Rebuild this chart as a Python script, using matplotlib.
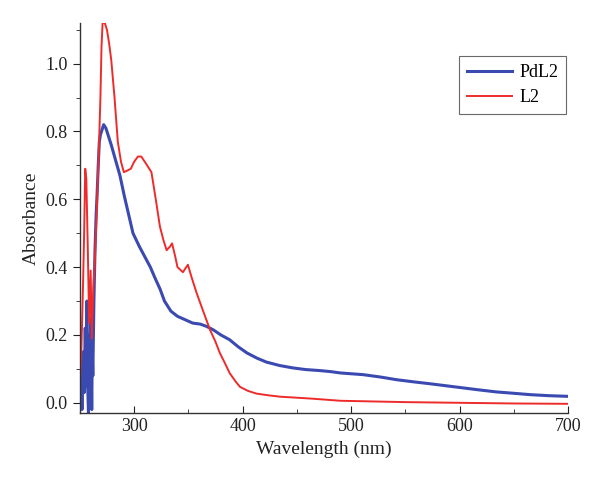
import numpy as np
import matplotlib
matplotlib.use("Agg")
import matplotlib.pyplot as plt
from matplotlib.ticker import MultipleLocator

plt.rcParams['font.family'] = ['Liberation Serif', 'DejaVu Serif']

# PdL2 spectrum
pdl2_wl = [250, 251, 252, 253, 254, 255, 256, 256.5, 257, 258, 258.5, 259, 260, 260.5, 261, 261.5,
           262, 263, 264, 265, 266, 267, 268, 269, 270, 272, 274, 276, 279, 282, 287, 291,
           295, 299, 305, 310, 315, 319, 324, 328, 334, 340, 347, 354, 361, 367, 373, 380,
           388, 396, 404, 413, 422, 434, 446, 458, 471, 481, 490, 511, 527, 542, 557, 573,
           588, 603, 618, 634, 650, 665, 682, 700]
pdl2_abs = [0.00, 0.12, -0.02, 0.15, 0.03, 0.22, 0.05, 0.30, 0.08, -0.03, 0.20, 0.02, 0.25, 0.10, -0.02, 0.15,
            0.08, 0.30, 0.45, 0.55, 0.62, 0.70, 0.77, 0.79, 0.80, 0.82, 0.81, 0.79, 0.76, 0.726, 0.67, 0.61,
            0.555, 0.50, 0.46, 0.43, 0.40, 0.37, 0.335, 0.30, 0.27, 0.255, 0.245, 0.235, 0.232, 0.225, 0.215, 0.20,
            0.186, 0.165, 0.147, 0.132, 0.12, 0.11, 0.103, 0.098, 0.095, 0.092, 0.088, 0.083, 0.076, 0.068, 0.062, 0.056,
            0.050, 0.044, 0.038, 0.032, 0.028, 0.024, 0.021, 0.019]

# L2 spectrum
l2_wl = [250, 251.5, 253, 254, 255, 256, 257.4, 258.6, 260, 261, 262.5, 264, 266, 267.5, 269, 270,
         271, 273, 275, 277, 279, 282, 285, 288, 290.6, 294, 297, 300, 303.5, 306.6, 310, 313,
         316, 320, 323.8, 327, 330, 333, 335, 338, 340, 345, 349.6, 353, 357.6, 362, 366, 370,
         375, 379, 384, 388, 393, 397.6, 405, 413, 424, 434.5, 450, 465, 490, 520, 550, 600,
         650, 700]
l2_abs = [0.05, 0.16, 0.35, 0.50, 0.69, 0.66, 0.45, 0.235, 0.39, 0.19, 0.34, 0.43, 0.60, 0.74, 0.90, 1.05,
          1.12, 1.12, 1.10, 1.06, 1.01, 0.90, 0.77, 0.71, 0.68, 0.685, 0.69, 0.71, 0.726, 0.726, 0.71, 0.695,
          0.68, 0.60, 0.52, 0.48, 0.45, 0.46, 0.47, 0.43, 0.40, 0.385, 0.407, 0.37, 0.324, 0.285, 0.25, 0.215,
          0.18, 0.147, 0.115, 0.088, 0.065, 0.047, 0.035, 0.027, 0.022, 0.018, 0.015, 0.012, 0.006, 0.004, 0.002, 0.0,
          -0.002, -0.003]

fig = plt.figure(figsize=(6, 4.87), dpi=100)
ax = fig.add_axes([0.133, 0.152, 0.814, 0.801])

ax.plot(pdl2_wl, pdl2_abs, color="#3b4ab0", lw=2.2, label="PdL2")
ax.plot(l2_wl, l2_abs, color="#ee2b2b", lw=1.4, label="L2")

ax.set_xlim(250, 700)
ax.set_ylim(-0.03, 1.12)
ax.xaxis.set_major_locator(MultipleLocator(100))
ax.xaxis.set_minor_locator(MultipleLocator(50))
ax.yaxis.set_major_locator(MultipleLocator(0.2))
ax.yaxis.set_minor_locator(MultipleLocator(0.1))
ax.yaxis.set_major_formatter(matplotlib.ticker.FormatStrFormatter("%.1f"))

for s in ["top", "right"]:
    ax.spines[s].set_visible(False)
for s in ["left", "bottom"]:
    ax.spines[s].set_color("#333333")
    ax.spines[s].set_linewidth(1.0)

ax.tick_params(axis="x", which="both", direction="in", labelsize=13, colors="#222222")
ax.tick_params(axis="y", which="both", direction="out", labelsize=13, colors="#222222")
ax.tick_params(which="major", length=5)
ax.tick_params(which="minor", length=3)

ax.set_xlabel("Wavelength (nm)", fontsize=14, color="#222222")
ax.set_ylabel("Absorbance", fontsize=14, color="#222222")

leg = ax.legend(loc="upper right", bbox_to_anchor=(0.996, 0.915), borderaxespad=0, fontsize=13,
                frameon=True, fancybox=False, edgecolor="#444444", handlelength=2.5, borderpad=0.45,
                labelspacing=0.45, handletextpad=0.4)
leg.get_frame().set_linewidth(0.8)

fig.savefig("out.png", dpi=100)
